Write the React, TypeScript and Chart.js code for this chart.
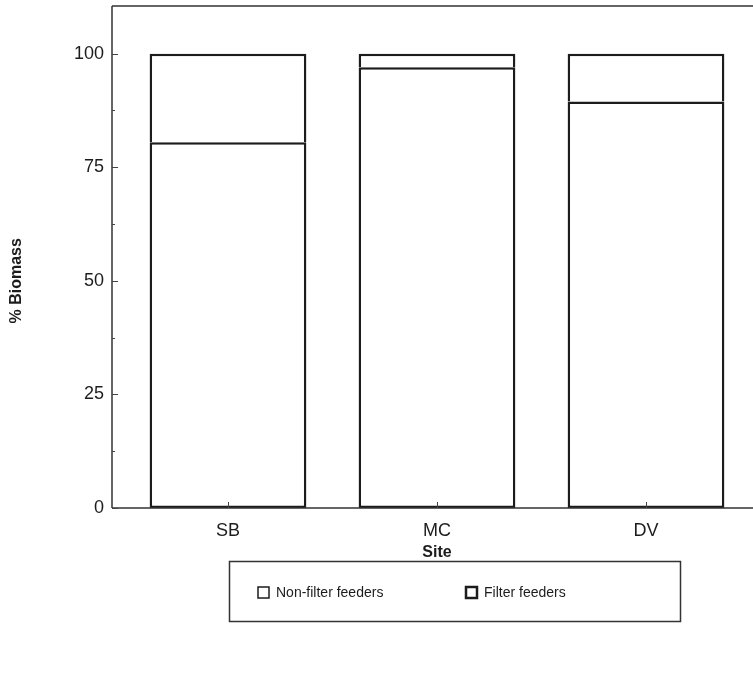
import React, { useEffect, useRef } from "react";
import { Chart, registerables } from "chart.js";

Chart.register(...registerables);

// Sites along the x axis
const sites = ["SB", "MC", "DV"];
// Share of biomass (%) by feeding group at each site
const nonFilterFeeders = [80.5, 97, 89.5];
const filterFeeders = [19.5, 3, 10.5];
// Axis ticks
const yMajorTicks = [0, 25, 50, 75, 100];
const yMinorTicks = [12.5, 37.5, 62.5, 87.5];

const FONT = "'Liberation Sans', Arial, Helvetica, sans-serif";
const INK = "#1c1c1c";

const framePlugin = {
  id: "frameAndLegend",
  afterDraw(chart: any) {
    const { ctx, chartArea } = chart;
    const xs = chart.scales.x;
    const ys = chart.scales.y;
    const { left, right, top, bottom } = chartArea;
    ctx.save();

    // plot frame: top, left and bottom edges
    ctx.strokeStyle = "#333";
    ctx.lineWidth = 1.5;
    ctx.beginPath();
    ctx.moveTo(left, top);
    ctx.lineTo(right, top);
    ctx.moveTo(left, top);
    ctx.lineTo(left, bottom);
    ctx.moveTo(left, bottom);
    ctx.lineTo(right, bottom);
    ctx.stroke();

    // inward ticks on the y axis
    ctx.lineWidth = 1;
    ctx.strokeStyle = "#444";
    ctx.beginPath();
    yMajorTicks.forEach((v) => {
      const py = Math.round(ys.getPixelForValue(v)) + 0.5;
      ctx.moveTo(left, py);
      ctx.lineTo(left + 6, py);
    });
    yMinorTicks.forEach((v) => {
      const py = Math.round(ys.getPixelForValue(v)) + 0.5;
      ctx.moveTo(left, py);
      ctx.lineTo(left + 3, py);
    });
    // upward ticks at each site
    sites.forEach((_, i) => {
      const px = Math.round(xs.getPixelForValue(i + 1)) + 0.5;
      ctx.moveTo(px, bottom);
      ctx.lineTo(px, bottom - 6);
    });
    ctx.stroke();

    // axis titles
    ctx.fillStyle = INK;
    ctx.font = `bold 16px ${FONT}`;
    ctx.textAlign = "center";
    ctx.textBaseline = "middle";
    ctx.fillText("Site", (left + right) / 2, 553);
    ctx.save();
    ctx.translate(17, ys.getPixelForValue(50));
    ctx.rotate(-Math.PI / 2);
    ctx.fillText("% Biomass", 0, 0);
    ctx.restore();

    // legend box
    ctx.strokeStyle = "#333";
    ctx.lineWidth = 1.5;
    ctx.strokeRect(229.5, 561.5, 451, 60);

    const items = [
      { label: chart.data.datasets[0].label, x: 258, w: 1.5 },
      { label: chart.data.datasets[1].label, x: 466, w: 2.5 },
    ];
    ctx.font = `14px ${FONT}`;
    ctx.textAlign = "left";
    items.forEach((it) => {
      ctx.fillStyle = "#fff";
      ctx.fillRect(it.x, 587, 11, 11);
      ctx.strokeStyle = INK;
      ctx.lineWidth = it.w;
      ctx.strokeRect(it.x, 587, 11, 11);
      ctx.fillStyle = INK;
      ctx.fillText(it.label, it.x + 18, 593);
    });
    ctx.restore();
  },
};

export default function App() {
  const ref = useRef<HTMLCanvasElement | null>(null);

  useEffect(() => {
    if (!ref.current) return;
    const chart = new Chart(ref.current, {
      type: "bar",
      data: {
        datasets: [
          {
            label: "Non-filter feeders",
            data: sites.map((_, i) => ({ x: i + 1, y: nonFilterFeeders[i] })),
            backgroundColor: "#ffffff",
            borderColor: INK,
            borderWidth: 2.5,
            borderSkipped: false,
          },
          {
            label: "Filter feeders",
            data: sites.map((_, i) => ({ x: i + 1, y: filterFeeders[i] })),
            backgroundColor: "#ffffff",
            borderColor: INK,
            borderWidth: 2.5,
            borderSkipped: "start",
          },
        ],
      },
      options: {
        animation: false,
        responsive: false,
        devicePixelRatio: 1,
        layout: { padding: { top: 6, right: 8, bottom: 0, left: 0 } },
        datasets: { bar: { barPercentage: 0.75, categoryPercentage: 1 } },
        plugins: {
          legend: { display: false },
          tooltip: { enabled: false },
        },
        scales: {
          x: {
            type: "linear",
            stacked: true,
            offset: false,
            min: 0.445,
            max: 3.555,
            grid: { display: false, drawTicks: false, offset: false },
            border: { display: false },
            afterBuildTicks: (s: any) => {
              s.ticks = sites.map((_, i) => ({ value: i + 1 }));
            },
            afterFit: (s: any) => {
              s.height = 175;
              s.paddingLeft = 0;
              s.paddingRight = 0;
            },
            ticks: {
              autoSkip: false,
              maxRotation: 0,
              padding: 12,
              color: INK,
              font: { family: FONT, size: 18 },
              callback: (v: any) => sites[Number(v) - 1] ?? "",
            },
          },
          y: {
            stacked: true,
            min: 0,
            max: 110.5,
            grid: { display: false, drawTicks: false },
            border: { display: false },
            afterBuildTicks: (s: any) => {
              s.ticks = yMajorTicks.map((v) => ({ value: v }));
            },
            afterFit: (s: any) => {
              s.width = 112;
              s.paddingTop = 0;
              s.paddingBottom = 0;
            },
            ticks: {
              padding: 8,
              color: INK,
              font: { family: FONT, size: 18 },
            },
          },
        },
      },
      plugins: [framePlugin],
    } as any);
    return () => chart.destroy();
  }, []);

  return (
    <div
      style={{
        position: "fixed",
        left: 0,
        top: 0,
        width: 753,
        height: 683,
        overflow: "hidden",
        background: "#fff",
      }}
    >
      <canvas ref={ref} width={770} height={683} style={{ display: "block" }} />
    </div>
  );
}
